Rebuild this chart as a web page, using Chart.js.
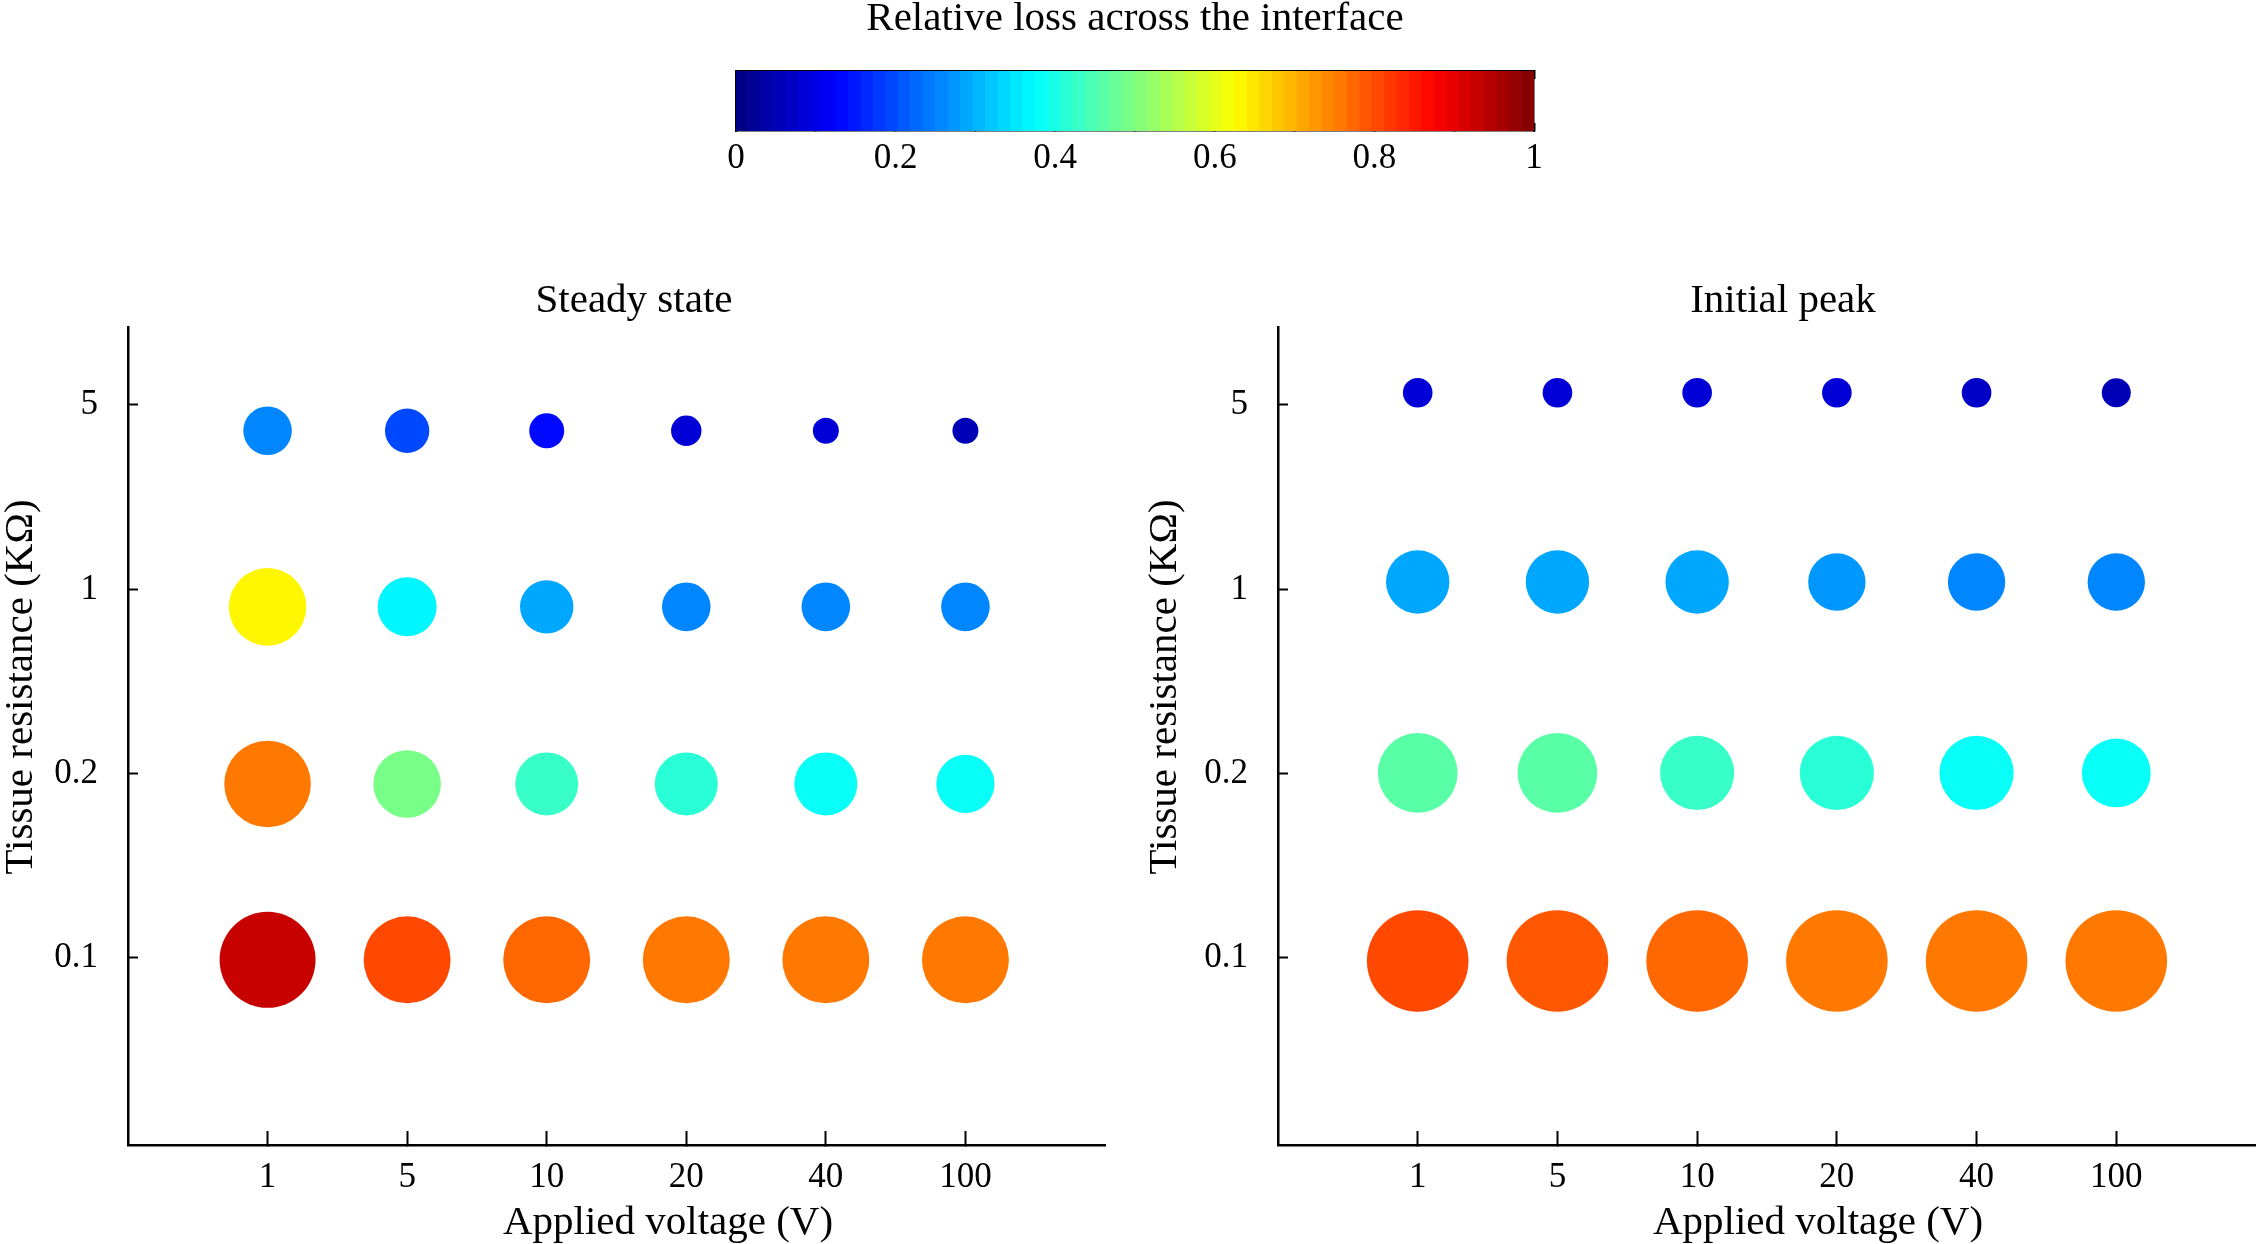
<!DOCTYPE html>
<html lang="en">
  <head>
    <meta charset="UTF-8" />
    <title>Relative loss across the interface</title>
    <script src="https://cdn.jsdelivr.net/npm/chart.js@4.4.1/dist/chart.umd.min.js"></script>
    <style>
      html, body { margin: 0; padding: 0; background: #fff; overflow: hidden; }
      #page { position: relative; width: 2256px; height: 1244px; }
      canvas { position: absolute; }
    </style>
  </head>
  <body>
    <div id="page">
      <canvas id="colorbar" width="1100" height="200" style="left:600px;top:0px;"></canvas>
      <canvas id="steady" width="1130" height="1004" style="left:0px;top:240px;"></canvas>
      <canvas id="peak" width="1156" height="1004" style="left:1100px;top:240px;"></canvas>
    </div>

    <script>
      // categories
      const voltages = ['1', '5', '10', '20', '40', '100'];
      const resistances = ['0.1', '0.2', '1', '5'];
      const colorTicks = [0, 0.1, 0.2, 0.3, 0.4, 0.5, 0.6, 0.7, 0.8, 0.9, 1];

      // relative loss, rows = 0.1, 0.2, 1, 5 KOhm, columns = voltages
      const steadyLoss = [
        [0.925, 0.80, 0.775, 0.76, 0.755, 0.755],
        [0.765, 0.49, 0.425, 0.41, 0.39, 0.39],
        [0.63, 0.36, 0.29, 0.26, 0.25, 0.25],
        [0.26, 0.20, 0.14, 0.09, 0.08, 0.055]
      ];
      // marker radius
      const steadySize = [
        [48, 43.5, 43.5, 43.5, 43.5, 43.5],
        [43.3, 33.8, 31.5, 31.5, 31.5, 29.1],
        [38.8, 29.5, 26.7, 24.3, 24.3, 24.3],
        [24.3, 22.2, 17.5, 15.2, 13, 13]
      ];
      // row centres in axis units (markers sit a bit off the ticks)
      const steadyRowY = [0.99, 1.944, 2.905, 3.86];

      const peakLoss = [
        [0.81, 0.79, 0.775, 0.76, 0.755, 0.755],
        [0.455, 0.455, 0.425, 0.41, 0.39, 0.385],
        [0.295, 0.295, 0.295, 0.27, 0.255, 0.25],
        [0.085, 0.085, 0.085, 0.085, 0.075, 0.055]
      ];
      const peakSize = [
        [50.8, 50.8, 50.8, 50.8, 50.8, 50.8],
        [39.9, 39.9, 37.1, 37.1, 37.1, 34.4],
        [31.7, 31.7, 31.7, 28.7, 28.7, 28.7],
        [14.8, 14.8, 14.8, 14.8, 14.8, 14.5]
      ];
      const peakRowY = [0.984, 2.004, 3.04, 4.066];

      const FONT = '"Liberation Serif", "Times New Roman", serif';
      Chart.defaults.font.family = FONT;
      Chart.defaults.color = '#000';

      // matlab style jet, 64 steps
      function jet(v) {
        const k = Math.min(63, Math.max(0, Math.floor(v * 64)));
        const x = (k + 0.5) / 64;
        const c = t => Math.round(255 * Math.min(1, Math.max(0, t)));
        return 'rgb(' + c(1.5 - Math.abs(4 * x - 3)) + ',' +
          c(1.5 - Math.abs(4 * x - 2)) + ',' + c(1.5 - Math.abs(4 * x - 1)) + ')';
      }

      // titles / axis labels drawn at free positions
      const freeText = {
        id: 'freeText',
        afterDraw(chart, args, opts) {
          const ctx = chart.ctx;
          (opts.items || []).forEach(it => {
            ctx.save();
            ctx.font = it.size + 'px ' + FONT;
            ctx.fillStyle = '#000';
            ctx.textAlign = 'center';
            ctx.textBaseline = 'alphabetic';
            ctx.translate(it.x, it.y);
            if (it.rotate) ctx.rotate(-Math.PI / 2);
            ctx.fillText(it.text, 0, 0);
            ctx.restore();
          });
        }
      };

      // colour bar
      const barData = [];
      const barColors = [];
      for (let i = 0; i < 64; i++) {
        barData.push({ x: (i + 0.5) / 64, y: 1 });
        barColors.push(jet((i + 0.5) / 64));
      }

      const cbTicks = s => { s.ticks = colorTicks.map(v => ({ value: v })); };

      new Chart(document.getElementById('colorbar'), {
        type: 'bar',
        data: {
          datasets: [{
            data: barData,
            backgroundColor: barColors,
            borderWidth: 0,
            barPercentage: 1,
            categoryPercentage: 1
          }]
        },
        plugins: [freeText],
        options: {
          responsive: false,
          animation: false,
          layout: { padding: 0, autoPadding: false },
          plugins: {
            legend: { display: false },
            tooltip: { enabled: false },
            freeText: { items: [{ text: 'Relative loss across the interface', x: 535, y: 30, size: 41 }] }
          },
          scales: {
            x: {
              type: 'linear', position: 'bottom', min: 0, max: 1, offset: false,
              afterBuildTicks: cbTicks,
              afterFit: s => { s.height = 69; },
              ticks: {
                autoSkip: false, maxRotation: 0, padding: 15,
                font: { size: 35 },
                callback: (v, i) => (i % 2 === 0 ? String(colorTicks[i]) : '')
              },
              grid: { offset: false, drawOnChartArea: false, tickLength: -8, tickWidth: 2, tickColor: '#000' },
              border: { display: true, color: '#000', width: 1.5 }
            },
            x2: {
              type: 'linear', axis: 'x', position: 'top', min: 0, max: 1, offset: false,
              afterBuildTicks: cbTicks,
              afterFit: s => { s.height = 71; },
              ticks: { display: false },
              grid: { offset: false, drawOnChartArea: false, tickLength: -8, tickWidth: 2, tickColor: '#000' },
              border: { display: true, color: '#000', width: 1.5 }
            },
            y: {
              min: 0, max: 1, position: 'left',
              afterFit: s => { s.width = 136; },
              ticks: { display: false },
              grid: { display: false },
              border: { display: true, color: '#000', width: 1.5 }
            },
            y2: {
              axis: 'y', min: 0, max: 1, position: 'right',
              afterFit: s => { s.width = 166; },
              ticks: { display: false },
              grid: { display: false },
              border: { display: true, color: '#000', width: 1.5 }
            }
          }
        }
      });

      // bubble panels
      function makePanel(id, loss, size, rowY, yWidth, padRight, texts) {
        const pts = [];
        const colors = [];
        loss.forEach((row, i) => row.forEach((v, j) => {
          pts.push({ x: j + 1, y: rowY[i], r: size[i][j] });
          colors.push(jet(v));
        }));

        return new Chart(document.getElementById(id), {
          type: 'bubble',
          data: {
            datasets: [{
              data: pts,
              backgroundColor: colors,
              borderWidth: 0,
              hoverRadius: 0,
              clip: false
            }]
          },
          plugins: [freeText],
          options: {
            responsive: false,
            animation: false,
            layout: { autoPadding: false, padding: { top: 87, right: padRight, left: 0, bottom: 0 } },
            plugins: {
              legend: { display: false },
              tooltip: { enabled: false },
              freeText: { items: texts }
            },
            scales: {
              x: {
                type: 'linear', min: 0, max: 7,
                afterBuildTicks: s => { s.ticks = voltages.map((_, i) => ({ value: i + 1 })); },
                afterFit: s => { s.height = 99; },
                ticks: {
                  autoSkip: false, maxRotation: 0, padding: 26,
                  font: { size: 35 },
                  callback: v => voltages[Math.round(v) - 1]
                },
                grid: { drawOnChartArea: false, tickLength: -14, tickWidth: 2, tickColor: '#000' },
                border: { display: true, color: '#000', width: 2.5 }
              },
              y: {
                type: 'linear', min: -0.0145, max: 4.423,
                afterBuildTicks: s => { s.ticks = resistances.map((_, i) => ({ value: i + 1 })); },
                afterFit: s => { s.width = yWidth; },
                ticks: {
                  autoSkip: false, padding: 40,
                  font: { size: 35 },
                  callback: v => resistances[Math.round(v) - 1]
                },
                grid: { drawOnChartArea: false, tickLength: -10, tickWidth: 2, tickColor: '#000' },
                border: { display: true, color: '#000', width: 2.5 }
              }
            }
          }
        });
      }

      makePanel('steady', steadyLoss, steadySize, steadyRowY, 128, 25, [
        { text: 'Steady state', x: 634, y: 72, size: 41 },
        { text: 'Applied voltage (V)', x: 668, y: 994, size: 41 },
        { text: 'Tissue resistance (KΩ)', x: 32, y: 447, size: 41, rotate: true }
      ]);

      makePanel('peak', peakLoss, peakSize, peakRowY, 178, 0, [
        { text: 'Initial peak', x: 683, y: 72, size: 41 },
        { text: 'Applied voltage (V)', x: 718, y: 994, size: 41 },
        { text: 'Tissue resistance (KΩ)', x: 76, y: 447, size: 41, rotate: true }
      ]);
    </script>
  </body>
</html>
